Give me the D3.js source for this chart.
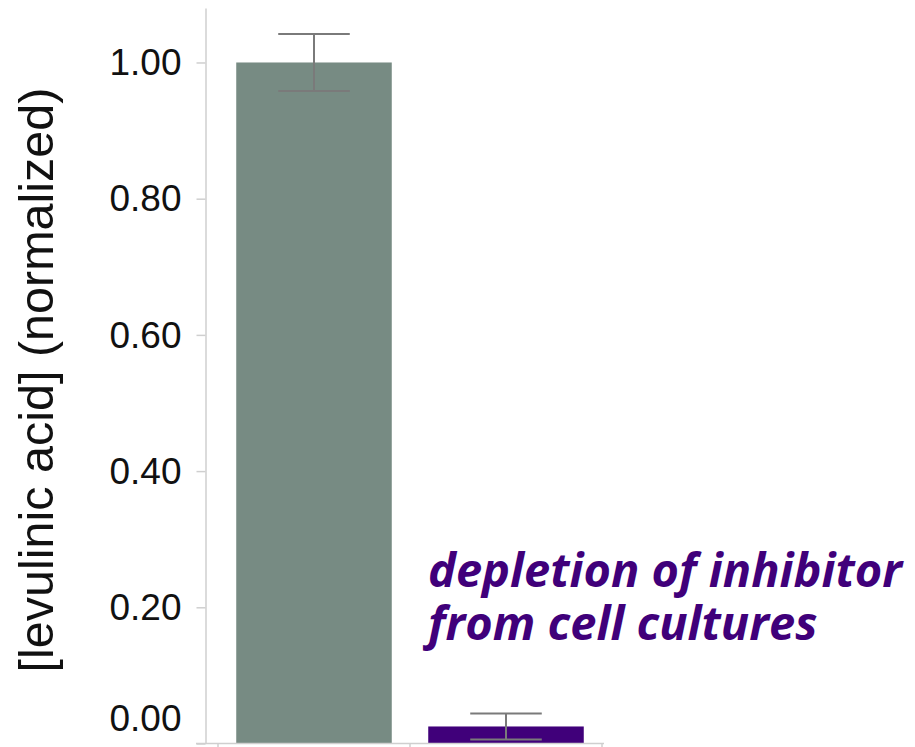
<!DOCTYPE html>
<html>
<head>
<meta charset="utf-8">
<script src="https://cdn.jsdelivr.net/npm/d3@7"></script>
<style>
  html, body { margin: 0; padding: 0; background: #fff; }
  svg { display: block; }
</style>
</head>
<body>
<svg id="chart" width="915" height="747"></svg>
<script>
// data
const categories = ["control", "depleted"]
const means = [1.00, 0.025]
const errors = [0.042, 0.019]
const barColors = ["#778b83", "#40007a"]
const yTicks = [0.00, 0.20, 0.40, 0.60, 0.80, 1.00]
const yTitle = "[levulinic acid] (normalized)"
const note = ["depletion of inhibitor", "from cell cultures"]

const svg = d3.select("#chart")

let x = d3.scaleBand()
    .domain(categories)
    .range([218, 602])
    .paddingInner(0.19)
    .paddingOuter(0.095)

let y = d3.scaleLinear()
    .domain([0, 1.08])
    .range([743.5, 8])

// bars
svg.append("g")
  .selectAll("rect")
  .data(categories)
  .enter().append("rect")
    .attr("x", d => x(d))
    .attr("y", (d, i) => y(means[i]))
    .attr("width", x.bandwidth())
    .attr("height", (d, i) => y(0) - y(means[i]))
    .attr("fill", (d, i) => barColors[i])

// error bars
let capW = x.bandwidth() * 0.46
let err = svg.append("g")
    .attr("stroke", "#7a7a7a")
    .attr("stroke-width", 2)
    .selectAll("g")
    .data(categories)
    .enter().append("g")
err.append("line")//stem
    .attr("x1", d => x(d) + x.bandwidth() / 2)
    .attr("x2", d => x(d) + x.bandwidth() / 2)
    .attr("y1", (d, i) => y(means[i] + errors[i]))
    .attr("y2", (d, i) => y(means[i] - errors[i]))
err.append("line")//top cap
    .attr("x1", d => x(d) + x.bandwidth() / 2 - capW / 2)
    .attr("x2", d => x(d) + x.bandwidth() / 2 + capW / 2)
    .attr("y1", (d, i) => y(means[i] + errors[i]))
    .attr("y2", (d, i) => y(means[i] + errors[i]))
err.append("line")//bottom cap
    .attr("x1", d => x(d) + x.bandwidth() / 2 - capW / 2)
    .attr("x2", d => x(d) + x.bandwidth() / 2 + capW / 2)
    .attr("y1", (d, i) => y(means[i] - errors[i]))
    .attr("y2", (d, i) => y(means[i] - errors[i]))

// y axis
let yAxis = svg.append("g")
    .attr("transform", "translate(205.5,0)")
    .call(d3.axisLeft(y).tickValues(yTicks).tickFormat(d3.format(".2f")).tickSize(9).tickSizeOuter(0).tickPadding(15))
yAxis.selectAll("path, line").attr("stroke", "#cfcfcf").attr("stroke-width", 1.5)
yAxis.selectAll("text")
    .attr("font-family", "Liberation Sans, Arial, sans-serif")
    .attr("font-size", 37)
    .attr("fill", "#111")
    .attr("dy", d => d === 0 ? "-0.36em" : "0.33em")//bottom label sits above the baseline, like the original

// x axis line with ticks at the band edges
let half = (x.step() - x.bandwidth()) / 2
let edges = categories.map(c => x(c) - half).concat([x(categories[categories.length - 1]) + x.bandwidth() + half])
let xAxis = svg.append("g").attr("stroke", "#cfcfcf").attr("stroke-width", 1.5)
xAxis.append("line")
    .attr("x1", 196).attr("x2", edges[edges.length - 1] + 2)
    .attr("y1", y(0)).attr("y2", y(0))
xAxis.selectAll(".xt")
    .data(edges)
    .enter().append("line")
    .attr("class", "xt")
    .attr("x1", d => d).attr("x2", d => d)
    .attr("y1", y(0)).attr("y2", y(0) + 6)

// y title
svg.append("text")
    .attr("transform", "translate(53,380) rotate(-90)")
    .attr("text-anchor", "middle")
    .attr("font-family", "Liberation Sans, Arial, sans-serif")
    .attr("font-size", 48.5)
    .attr("fill", "#111")
    .text(yTitle)

// annotation
svg.append("g")
  .selectAll("text")
  .data(note)
  .enter().append("text")
    .attr("x", 428)
    .attr("y", (d, i) => 587 + i * 53)
    .attr("font-family", "Open Sans, sans-serif")
    .attr("font-style", "italic")
    .attr("font-weight", "bold")
    .attr("font-size", 47)
    .attr("fill", "#40007a")
    .text(d => d)
</script>
</body>
</html>
